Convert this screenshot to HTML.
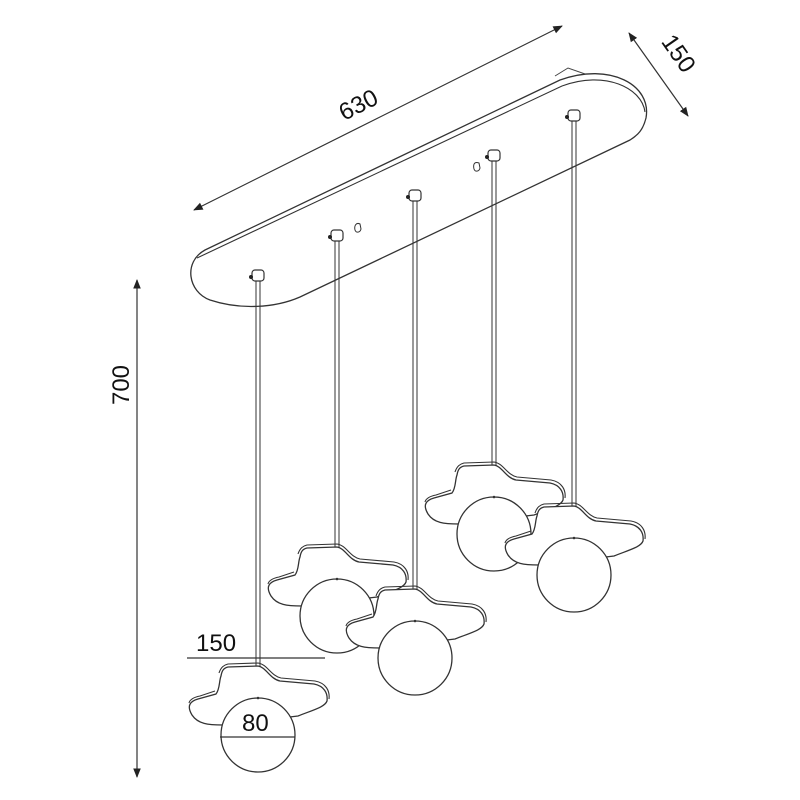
<!DOCTYPE html>
<html><head><meta charset="utf-8"><style>
html,body{margin:0;padding:0;background:#fff;}
svg{display:block;}
text{font-family:"Liberation Sans",sans-serif;font-size:24px;fill:#111;}
</style></head><body>
<svg width="800" height="800" viewBox="0 0 800 800" xmlns="http://www.w3.org/2000/svg">
<defs>
<marker id="ar" viewBox="0 0 10 10" refX="9" refY="5" markerWidth="8" markerHeight="8" orient="auto-start-reverse"><path d="M0,1 L10,5 L0,9 Z" fill="#222"/></marker>
<g id="shade">
  <path d="M-37,9 C-36,3 -34,1 -30,0 L0,-1 C8,0 12,12 22,14 L56,17 C66,19 70,26 69,34 C67,40 55,43 40,49 L-35,58 C-50,58 -60,57 -66,48 C-72,38 -67,34 -60,32 L-42,27 C-38,22 -39,14 -37,9 Z" fill="#fff" stroke="#333" stroke-width="1.3"/>
  <path d="M-39,6 C-37,0 -34,-2 -30,-3 L0,-4 C9,-3 13,9 23,11 L57,14 C68,16 72,24 71,32" fill="none" stroke="#333" stroke-width="1.1"/>
  <path d="M-69,36 C-68,32 -63,30 -58,29 L-43,24" fill="none" stroke="#333" stroke-width="1.1"/>
  <circle cx="0" cy="68" r="37" fill="#fff" stroke="#333" stroke-width="1.3"/>
  <circle cx="0" cy="31" r="1.3" fill="#333"/>
</g>
<g id="cap">
  <rect x="-6" y="-8" width="12" height="11" rx="3" fill="#fff" stroke="#333" stroke-width="1.2"/>
  <circle cx="-7" cy="-1" r="2" fill="#222"/>
</g>
</defs>

<!-- canopy -->
<path d="M555,76 L568,68 L588,75" fill="none" stroke="#444" stroke-width="1"/>
<path d="M205,250 L560,80 C610,62 652,85 646,118 C643,130 638,135 630,140 L300,297 C275,308 240,310 210,300 C188,292 183,262 205,250 Z" fill="#fff" stroke="#333" stroke-width="1.3"/>
<path d="M197,258 L562,86 C605,70 642,88 645,112" fill="none" stroke="#333" stroke-width="1.1"/>
<path d="M360,224 C356,222 354,226 355,230 C356,233 360,233 361,229 Z" fill="#fff" stroke="#333" stroke-width="1"/>
<path d="M479,163 C474,161 473,165 474,169 C475,172 479,172 480,168 Z" fill="#fff" stroke="#333" stroke-width="1"/>

<!-- stems -->
<g stroke="#333" stroke-width="1" fill="none">
  <line x1="256" y1="280" x2="256" y2="667"/><line x1="260" y1="280" x2="260" y2="667"/>
  <line x1="335" y1="240" x2="335" y2="548"/><line x1="339" y1="240" x2="339" y2="548"/>
  <line x1="413" y1="200" x2="413" y2="590"/><line x1="417" y1="200" x2="417" y2="590"/>
  <line x1="492" y1="160" x2="492" y2="466"/><line x1="496" y1="160" x2="496" y2="466"/>
  <line x1="572" y1="120" x2="572" y2="507"/><line x1="576" y1="120" x2="576" y2="507"/>
</g>
<use href="#cap" x="258" y="278"/>
<use href="#cap" x="337" y="238"/>
<use href="#cap" x="415" y="198"/>
<use href="#cap" x="494" y="158"/>
<use href="#cap" x="574" y="118"/>

<!-- shades -->
<use href="#shade" x="494" y="466"/>
<use href="#shade" x="574" y="507"/>
<use href="#shade" x="337" y="548"/>
<use href="#shade" x="415" y="590"/>
<use href="#shade" x="258" y="667"/>

<!-- dimensions -->
<g stroke="#333" stroke-width="1.2">
  <line x1="194" y1="210" x2="562" y2="26" marker-start="url(#ar)" marker-end="url(#ar)"/>
  <line x1="629" y1="33" x2="688" y2="116" marker-start="url(#ar)" marker-end="url(#ar)"/>
  <line x1="137" y1="280" x2="137" y2="777" marker-start="url(#ar)" marker-end="url(#ar)"/>
  <line x1="187" y1="658" x2="325" y2="658"/>
  <line x1="220" y1="737" x2="295" y2="737"/>
</g>
<text x="0" y="0" transform="translate(362,112) rotate(-27)" text-anchor="middle">630</text>
<text x="0" y="0" transform="translate(672,58) rotate(55)" text-anchor="middle">150</text>
<text x="0" y="0" transform="translate(129,385) rotate(-90)" text-anchor="middle">700</text>
<text x="196" y="651">150</text>
<text x="242" y="731">80</text>
</svg>
</body></html>
